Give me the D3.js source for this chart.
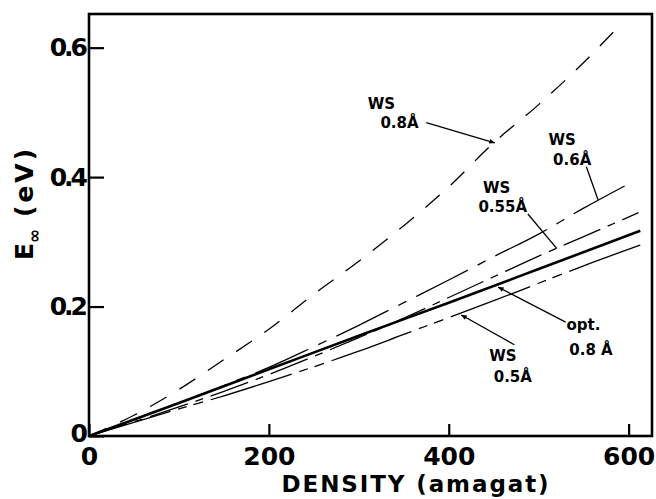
<!DOCTYPE html>
<html>
<head>
<meta charset="utf-8">
<script src="https://cdn.jsdelivr.net/npm/d3@7"></script>
<style>
  body { margin: 0; background: #fff; }
  #chart text { font-family: "DejaVu Sans", sans-serif; font-weight: bold; fill: #000; }
</style>
</head>
<body>
<div id="chart"></div>
<script>
// values (density in amagat, E in eV)
var densWS08 = [0, 50, 100, 150, 200, 250, 300, 350, 400, 450, 500, 550, 585];
var eWS08    = [0, 0.032, 0.072, 0.118, 0.165, 0.219, 0.270, 0.325, 0.385, 0.453, 0.512, 0.577, 0.627];

var densWS06 = [0, 50, 100, 150, 200, 250, 300, 350, 400, 450, 500, 550, 602];
var eWS06    = [0, 0.025, 0.051, 0.078, 0.106, 0.138, 0.171, 0.206, 0.241, 0.277, 0.312, 0.352, 0.391];

var densWS055 = [0, 50, 100, 150, 200, 250, 300, 350, 400, 450, 500, 550, 611];
var eWS055    = [0, 0.022, 0.045, 0.069, 0.095, 0.123, 0.152, 0.182, 0.214, 0.246, 0.278, 0.308, 0.345];

var densOpt = [0, 100, 200, 300, 400, 500, 613];
var eOpt    = [0, 0.051, 0.103, 0.155, 0.206, 0.258, 0.317];

var densWS05 = [0, 50, 100, 150, 200, 250, 300, 350, 400, 450, 500, 550, 613];
var eWS05    = [0, 0.021, 0.042, 0.062, 0.084, 0.107, 0.131, 0.157, 0.183, 0.209, 0.236, 0.263, 0.295];

var xTicks = [0, 200, 400, 600];
var yTicks = [0, 0.2, 0.4, 0.6];

var series = [
    {id: "ws08", x: densWS08, y: eWS08},
    {id: "ws06", x: densWS06, y: eWS06},
    {id: "ws055", x: densWS055, y: eWS055},
    {id: "opt08", x: densOpt, y: eOpt},
    {id: "ws05", x: densWS05, y: eWS05}
];

// line look per curve
var styles = {
    ws08:  {w: 1.3, dash: "19,15"},
    ws06:  {w: 1.3, dash: "58,11,9,11"},
    ws055: {w: 1.3, dash: "40,8,8,8"},
    opt08: {w: 2.6, dash: null},
    ws05:  {w: 1.3, dash: "85,8,9,7,10,8"}
};

// labels + pointer lines, placed in data units
var notes = [
    {t1: "WS", p1: [310, 0.505], t2: "0.8Å", p2: [324, 0.476], from: [375, 0.484], to: [451, 0.453], head: true},
    {t1: "WS", p1: [511, 0.449], t2: "0.6Å", p2: [516, 0.419], from: [553, 0.416], to: [566, 0.365], head: false},
    {t1: "WS", p1: [438, 0.376], t2: "0.55Å", p2: [433, 0.346], from: [488, 0.343], to: [520, 0.290], head: false},
    {t1: "opt.", p1: [531, 0.164], t2: "0.8 Å", p2: [534, 0.125], from: [530, 0.176], to: [455, 0.230], head: true},
    {t1: "WS", p1: [445, 0.116], t2: "0.5Å", p2: [450, 0.083], from: [473, 0.141], to: [414, 0.187], head: true}
];

var W = 656, H = 499;
var x = d3.scaleLinear().domain([0, 626]).range([89, 652]);
var y = d3.scaleLinear().domain([0, 0.652]).range([436, 14]);

var svg = d3.select("#chart").append("svg").attr("width", W).attr("height", H);

svg.append("defs").append("marker")
    .attr("id", "head")
    .attr("viewBox", "0 0 10 10")
    .attr("refX", 9).attr("refY", 5)
    .attr("markerWidth", 6).attr("markerHeight", 6)
    .attr("markerUnits", "userSpaceOnUse")
    .attr("orient", "auto")
    .append("path").attr("d", "M0,1 L10,5 L0,9 Z").attr("fill", "#000");

// axes, ticks pointing inward
var xAxis = d3.axisBottom(x).tickValues(xTicks).tickSize(-12).tickPadding(11)
    .tickFormat(d3.format("d"));
var yAxis = d3.axisLeft(y).tickValues(yTicks).tickSize(-15).tickPadding(4)
    .tickFormat(function(d){ return d === 0 ? "0" : d3.format(".1f")(d); });

var gx = svg.append("g").attr("transform", "translate(0,436)").call(xAxis);
var gy = svg.append("g").attr("transform", "translate(89,0)").call(yAxis);
[gx, gy].forEach(function(g){
    g.select(".domain").remove();
    g.selectAll(".tick line").attr("stroke", "#000").attr("stroke-width", 2.2);
    g.selectAll(".tick text").style("font-size", "25px");
});
gy.selectAll(".tick text").style("letter-spacing", "-3px");
// lift the corner "0" a little so it clears the x label
gy.selectAll(".tick text").filter(function(d){ return d === 0; }).attr("dy", "0.2em");

svg.append("rect")
    .attr("x", 89).attr("y", 14)
    .attr("width", 652 - 89).attr("height", 436 - 14)
    .attr("fill", "none").attr("stroke", "#000").attr("stroke-width", 2.6);

// curves
var line = d3.line()
    .x(function(d){ return x(d[0]); })
    .y(function(d){ return y(d[1]); })
    .curve(d3.curveMonotoneX);

svg.append("g").selectAll("path")
    .data(series).enter().append("path")
    .attr("d", function(s){ return line(s.x.map(function(v, i){ return [v, s.y[i]]; })); })
    .attr("fill", "none")
    .attr("stroke", "#000")
    .attr("stroke-width", function(s){ return styles[s.id].w; })
    .attr("stroke-dasharray", function(s){ return styles[s.id].dash; });

// annotations
var ng = svg.append("g").selectAll("g").data(notes).enter().append("g");
ng.append("line")
    .attr("x1", function(d){ return x(d.from[0]); })
    .attr("y1", function(d){ return y(d.from[1]); })
    .attr("x2", function(d){ return x(d.to[0]); })
    .attr("y2", function(d){ return y(d.to[1]); })
    .attr("stroke", "#000").attr("stroke-width", 1.3)
    .attr("marker-end", function(d){ return d.head ? "url(#head)" : null; });
ng.append("text")
    .attr("x", function(d){ return x(d.p1[0]); })
    .attr("y", function(d){ return y(d.p1[1]); })
    .style("font-size", "15px")
    .text(function(d){ return d.t1; });
ng.append("text")
    .attr("x", function(d){ return x(d.p2[0]); })
    .attr("y", function(d){ return y(d.p2[1]); })
    .style("font-size", "15px")
    .text(function(d){ return d.t2; });

// axis titles
svg.append("text")
    .attr("x", 416).attr("y", 492)
    .attr("text-anchor", "middle")
    .style("font-size", "23px").style("letter-spacing", "1.9px")
    .text("DENSITY (amagat)");

var yt = svg.append("text")
    .attr("transform", "translate(33,260) rotate(-90)")
    .style("font-size", "25px");
yt.append("tspan").text("E");
yt.append("tspan").attr("dy", 7).style("font-size", "17px").text("∞");
yt.append("tspan").attr("dy", -7).style("letter-spacing", "3px").text(" (eV)");
</script>
</body>
</html>
